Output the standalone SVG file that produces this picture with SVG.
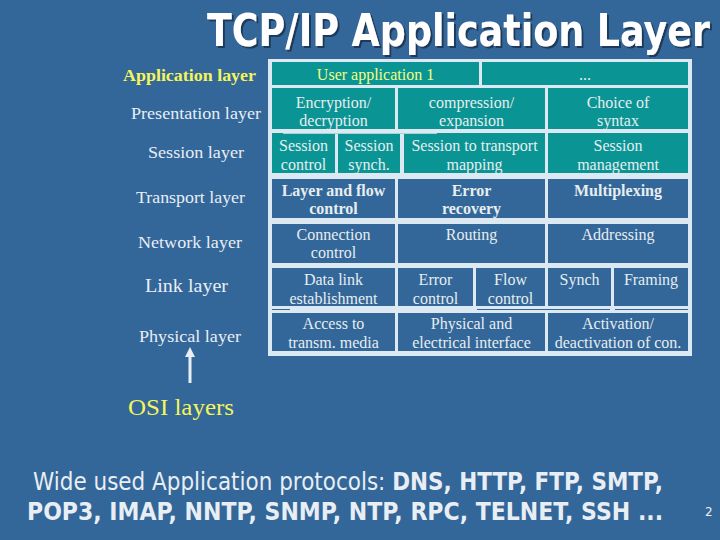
<svg xmlns="http://www.w3.org/2000/svg" width="720" height="540" viewBox="0 0 720 540">
<defs>
<style>
.bg{fill:#336699}
.frame{fill:#dce9f2}
.teal{fill:#0b9494}
.blue{fill:#336699}
.ct{font-family:"Liberation Serif","Times New Roman",serif;font-size:16px;fill:#e6eef0;text-anchor:middle}
.b{font-weight:bold}
.yl{fill:#f0ff80}
.lbl{font-family:"Liberation Serif","Times New Roman",serif;fill:#e8eef4}
.title{font-family:"DejaVu Sans",Verdana,sans-serif;font-weight:bold;font-size:45px;fill:#ffffff}
.foot{font-family:"DejaVu Sans",Verdana,sans-serif;font-size:25px;fill:#e8eef4}
</style>
<filter id="shadow" x="-5%" y="-20%" width="110%" height="150%">
<feDropShadow dx="2" dy="2" stdDeviation="0.6" flood-color="#1c3a5c" flood-opacity="1"/>
</filter>
</defs>
<rect class="bg" x="0" y="0" width="720" height="540"/>

<g id="title">
<text class="title" x="207" y="46" filter="url(#shadow)" textLength="503" lengthAdjust="spacingAndGlyphs">TCP/IP Application Layer</text>
</g>

<g id="table-frame">
<rect class="frame" x="268" y="59" width="424" height="297"/>
</g>

<g id="row1" font-family="Liberation Serif, Times New Roman, serif">
<g id="user-app"><rect class="teal" x="272" y="62" width="207" height="23"/><text class="ct yl" x="375.5" y="80">User application 1</text></g>
<g id="dots"><rect class="teal" x="482" y="62" width="206" height="23"/><text class="ct" x="585" y="80">...</text></g>
</g>

<g id="row2" font-family="Liberation Serif, Times New Roman, serif">
<g id="encryption"><rect class="teal" x="272" y="88" width="123" height="41"/><text class="ct" x="333.5" y="108">Encryption/</text><text class="ct" x="333.5" y="126">decryption</text></g>
<g id="compression"><rect class="teal" x="398" y="88" width="147" height="41"/><text class="ct" x="471.5" y="108">compression/</text><text class="ct" x="471.5" y="126">expansion</text></g>
<g id="syntax"><rect class="teal" x="548" y="88" width="140" height="41"/><text class="ct" x="618" y="108">Choice of</text><text class="ct" x="618" y="126">syntax</text></g>
</g>

<g id="row3" font-family="Liberation Serif, Times New Roman, serif">
<g id="session-control"><rect class="teal" x="272" y="133" width="63" height="40"/><text class="ct" x="303.5" y="151">Session</text><text class="ct" x="303.5" y="170">control</text></g>
<g id="session-synch"><rect class="teal" x="338" y="133" width="62" height="40"/><text class="ct" x="369" y="151">Session</text><text class="ct" x="369" y="170">synch.</text></g>
<g id="session-mapping"><rect class="teal" x="404" y="133" width="141" height="40"/><text class="ct" x="474.5" y="151">Session to transport</text><text class="ct" x="474.5" y="170">mapping</text></g>
<g id="session-mgmt"><rect class="teal" x="548" y="133" width="140" height="40"/><text class="ct" x="618" y="151">Session</text><text class="ct" x="618" y="170">management</text></g>
<line x1="283" y1="133.5" x2="437" y2="133.5" stroke="#9fd6d6" stroke-width="1"/>
</g>

<g id="row4" font-family="Liberation Serif, Times New Roman, serif">
<g id="layer-flow"><rect class="blue" x="272" y="179" width="123" height="39"/><text class="ct b" x="333.5" y="196">Layer and flow</text><text class="ct b" x="333.5" y="214">control</text></g>
<g id="error-recovery"><rect class="blue" x="398" y="179" width="147" height="39"/><text class="ct b" x="471.5" y="196">Error</text><text class="ct b" x="471.5" y="214">recovery</text></g>
<g id="multiplexing"><rect class="blue" x="548" y="179" width="140" height="39"/><text class="ct b" x="618" y="196">Multiplexing</text></g>
</g>

<g id="row5" font-family="Liberation Serif, Times New Roman, serif">
<g id="connection-control"><rect class="blue" x="272" y="224" width="123" height="39"/><text class="ct" x="333.5" y="240">Connection</text><text class="ct" x="333.5" y="258">control</text></g>
<g id="routing"><rect class="blue" x="398" y="224" width="147" height="39"/><text class="ct" x="471.5" y="240">Routing</text></g>
<g id="addressing"><rect class="blue" x="548" y="224" width="140" height="39"/><text class="ct" x="618" y="240">Addressing</text></g>
</g>

<g id="row6" font-family="Liberation Serif, Times New Roman, serif">
<g id="data-link"><rect class="blue" x="272" y="268" width="123" height="38"/><text class="ct" x="333.5" y="285">Data link</text><text class="ct" x="333.5" y="304">establishment</text></g>
<g id="error-control"><rect class="blue" x="398" y="268" width="75" height="38"/><text class="ct" x="435.5" y="285">Error</text><text class="ct" x="435.5" y="304">control</text></g>
<g id="flow-control"><rect class="blue" x="476" y="268" width="69" height="38"/><text class="ct" x="510.5" y="285">Flow</text><text class="ct" x="510.5" y="304">control</text></g>
<g id="synch"><rect class="blue" x="548" y="268" width="63" height="38"/><text class="ct" x="579.5" y="285">Synch</text></g>
<g id="framing"><rect class="blue" x="614" y="268" width="74" height="38"/><text class="ct" x="651" y="285">Framing</text></g>
<g fill="none" stroke="#336699" stroke-width="1">
<line x1="272" y1="309.5" x2="290" y2="309.5"/>
<line x1="477" y1="309.5" x2="610" y2="309.5"/>
<line x1="615" y1="309.5" x2="688" y2="309.5"/>
</g>
</g>

<g id="row7" font-family="Liberation Serif, Times New Roman, serif">
<g id="access-media"><rect class="blue" x="272" y="313" width="123" height="38"/><text class="ct" x="333.5" y="329">Access to</text><text class="ct" x="333.5" y="348">transm. media</text></g>
<g id="physical-interface"><rect class="blue" x="398" y="313" width="147" height="38"/><text class="ct" x="471.5" y="329">Physical and</text><text class="ct" x="471.5" y="348">electrical interface</text></g>
<g id="activation"><rect class="blue" x="548" y="313" width="140" height="38"/><text class="ct" x="618" y="329">Activation/</text><text class="ct" x="618" y="348">deactivation of con.</text></g>
</g>

<g id="osi-labels">
<g id="lbl-application"><text class="lbl b" x="123" y="81" font-size="17" style="fill:#f5f55a" textLength="133" lengthAdjust="spacingAndGlyphs">Application layer</text></g>
<g id="lbl-presentation"><text class="lbl" x="131" y="119" font-size="17" textLength="130" lengthAdjust="spacingAndGlyphs">Presentation layer</text></g>
<g id="lbl-session"><text class="lbl" x="148" y="158" font-size="17" textLength="96" lengthAdjust="spacingAndGlyphs">Session layer</text></g>
<g id="lbl-transport"><text class="lbl" x="136" y="203" font-size="17" textLength="109" lengthAdjust="spacingAndGlyphs">Transport layer</text></g>
<g id="lbl-network"><text class="lbl" x="138" y="248" font-size="17" textLength="104" lengthAdjust="spacingAndGlyphs">Network layer</text></g>
<g id="lbl-link"><text class="lbl" x="145" y="292" font-size="19" textLength="83" lengthAdjust="spacingAndGlyphs">Link layer</text></g>
<g id="lbl-physical"><text class="lbl" x="139" y="342" font-size="17" textLength="102" lengthAdjust="spacingAndGlyphs">Physical layer</text></g>
<g id="lbl-osi"><text class="lbl" x="128" y="415" font-size="24" style="fill:#f5f55a" textLength="106" lengthAdjust="spacingAndGlyphs">OSI layers</text></g>
</g>

<g id="connectors">
<line x1="190" y1="383" x2="190" y2="356" stroke="#e8eef4" stroke-width="3"/>
<polygon points="190,347 185,357 195,357" fill="#e8eef4"/>
</g>

<g id="footer">
<text class="foot" x="33" y="490" textLength="630" lengthAdjust="spacingAndGlyphs">Wide used Application protocols: <tspan font-weight="bold">DNS, HTTP, FTP, SMTP,</tspan></text>
<text class="foot" x="27" y="520" font-weight="bold" textLength="636" lengthAdjust="spacingAndGlyphs">POP3, IMAP, NNTP, SNMP, NTP, RPC, TELNET, SSH ...</text>
<text x="705" y="516" font-family="DejaVu Sans, Verdana, sans-serif" font-size="12" fill="#e8eef4">2</text>
</g>
</svg>
